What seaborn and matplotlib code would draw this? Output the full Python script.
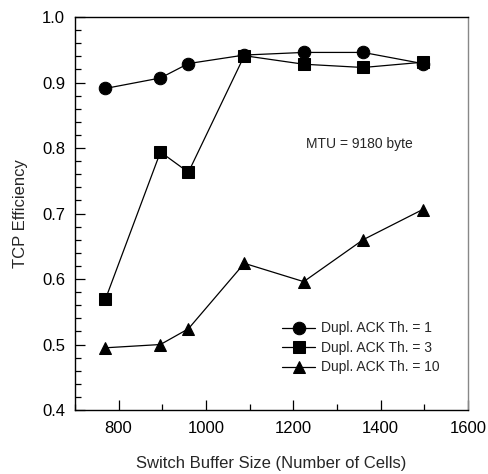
import numpy as np
import pandas as pd
import seaborn as sns
import matplotlib.pyplot as plt
from matplotlib.ticker import MultipleLocator

# ================= DATA =================
BUFFER_SIZE = [770, 896, 960, 1088, 1224, 1360, 1496]
EFF_TH1 = [0.891, 0.907, 0.929, 0.942, 0.946, 0.946, 0.929]
EFF_TH3 = [0.569, 0.794, 0.763, 0.941, 0.928, 0.923, 0.931]
EFF_TH10 = [0.495, 0.500, 0.524, 0.624, 0.596, 0.660, 0.706]
SERIES = ["Dupl. ACK Th. = 1", "Dupl. ACK Th. = 3", "Dupl. ACK Th. = 10"]
# ========================================

df = pd.DataFrame({
    "size": BUFFER_SIZE * 3,
    "eff": EFF_TH1 + EFF_TH3 + EFF_TH10,
    "series": [s for s in SERIES for _ in BUFFER_SIZE],
})

sns.set_theme(style="ticks")
plt.rcParams["font.family"] = ["Liberation Sans", "DejaVu Sans"]

fig, ax = plt.subplots(figsize=(4.89, 4.74), dpi=100)
fig.subplots_adjust(left=0.153, right=0.957, top=0.964, bottom=0.135)

sns.lineplot(
    data=df, x="size", y="eff", style="series", style_order=SERIES,
    markers={SERIES[0]: "o", SERIES[1]: "s", SERIES[2]: "^"},
    dashes=False, color="black", linewidth=0.9, markersize=9,
    markeredgecolor="black", ax=ax,
)

ax.set_xlim(700, 1600)
ax.set_ylim(0.4, 1.0)
ax.xaxis.set_major_locator(MultipleLocator(200))
ax.xaxis.set_minor_locator(MultipleLocator(100))
ax.yaxis.set_major_locator(MultipleLocator(0.1))
ax.yaxis.set_minor_locator(MultipleLocator(0.02))
ax.yaxis.set_major_formatter(plt.FormatStrFormatter("%.1f"))
ax.tick_params(which="both", direction="in", top=False, right=False, labelsize=12, colors="black")
ax.tick_params(which="major", length=7, width=0.9)
ax.tick_params(which="minor", length=4, width=0.9)
ax.tick_params(axis="x", which="major", pad=8)
ax.tick_params(axis="y", which="major", pad=7)
for side in ["left", "bottom", "top"]:
    ax.spines[side].set_color("black")
    ax.spines[side].set_linewidth(1.0)
ax.spines["right"].set_color("#888888")
ax.spines["right"].set_linewidth(1.0)

ax.set_xlabel("Switch Buffer Size (Number of Cells)", fontsize=12, labelpad=14)
ax.set_ylabel("TCP Efficiency", fontsize=12, labelpad=10)

ax.text(1352, 0.806, "MTU = 9180 byte", fontsize=10, ha="center", va="center")

ax.legend(loc="center left", bbox_to_anchor=(0.495, 0.158), frameon=False, fontsize=10,
          handlelength=2.4, labelspacing=0.4, handletextpad=0.4, title=None)

fig.savefig("out.png", dpi=100)
